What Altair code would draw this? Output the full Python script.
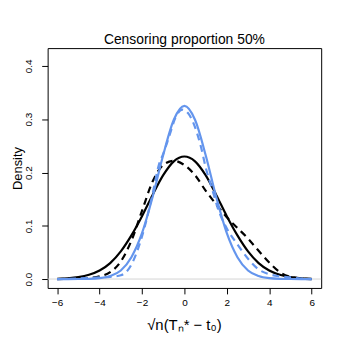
import altair as alt
import pandas as pd

# Values
x_grid = [-6, -5.5, -5, -4.5, -4, -3.5, -3, -2.5, -2, -1.5, -1, -0.5, 0,
          0.5, 1, 1.5, 2, 2.5, 3, 3.5, 4, 4.5, 5, 5.5, 6]

black_solid = [0.0006, 0.0015, 0.0036, 0.008, 0.016, 0.030, 0.052, 0.082, 0.118,
               0.158, 0.195, 0.221, 0.230, 0.221, 0.195, 0.158, 0.118, 0.082,
               0.052, 0.030, 0.016, 0.008, 0.0036, 0.0015, 0.0006]

blue_solid = [0.0, 0.0, 0.0001, 0.0004, 0.0016, 0.0056, 0.016, 0.041, 0.086,
              0.154, 0.233, 0.299, 0.325, 0.299, 0.233, 0.154, 0.086, 0.041,
              0.016, 0.0056, 0.0016, 0.0004, 0.0001, 0.0, 0.0]

black_dashed_x = [-6, -5.5, -5, -4.5, -4, -3.5, -3, -2.5, -2, -1.5, -1, -0.5, 0,
                  0.5, 1, 1.5, 2, 2.5, 3, 3.5, 4, 4.5, 5, 5.5, 6]
black_dashed = [0.0, 0.0005, 0.001, 0.002, 0.005, 0.013, 0.033, 0.072, 0.128,
                0.183, 0.214, 0.222, 0.214, 0.195, 0.166, 0.140, 0.116, 0.096,
                0.076, 0.053, 0.031, 0.013, 0.004, 0.001, 0.0]

blue_dashed_x = [-6, -5, -4.5, -4, -3.5, -3, -2.5, -2, -1.5, -1.2, -1, -0.7, -0.4,
                 -0.1, 0.2, 0.5, 0.8, 1, 1.3, 1.6, 2, 2.5, 3, 3.5, 4, 4.5, 5, 5.5, 6]
blue_dashed = [0.0, 0.001, 0.002, 0.003, 0.004, 0.007, 0.027, 0.080, 0.160, 0.215,
               0.235, 0.270, 0.305, 0.318, 0.310, 0.285, 0.245, 0.210, 0.170, 0.130,
               0.095, 0.065, 0.038, 0.018, 0.009, 0.005, 0.003, 0.001, 0.0]

x_ticks = [-6, -4, -2, 0, 2, 4, 6]
y_ticks = [0.0, 0.1, 0.2, 0.3, 0.4]

FONT = "Liberation Sans"

frames = []
for name, xs, ys in [("black_solid", x_grid, black_solid),
                     ("blue_solid", x_grid, blue_solid),
                     ("black_dashed", black_dashed_x, black_dashed),
                     ("blue_dashed", blue_dashed_x, blue_dashed)]:
    frames.append(pd.DataFrame({"x": xs, "y": ys, "series": name}))
df = pd.concat(frames, ignore_index=True)

xscale = alt.Scale(domain=[-6.45, 6.45], nice=False, zero=False)
yscale = alt.Scale(domain=[-0.0167, 0.4335], nice=False, zero=False)

xaxis = alt.Axis(values=x_ticks, title=None, grid=False, domain=False, tickSize=6,
                 tickColor="black", labelColor="black", labelFontSize=10,
                 labelFont=FONT, labelPadding=4, format="d")
yaxis = alt.Axis(values=y_ticks, title="Density", grid=False, domain=False, tickSize=6,
                 tickColor="black", labelColor="black", labelFontSize=10,
                 labelFont=FONT, labelAngle=-90, labelAlign="center",
                 labelBaseline="bottom", labelPadding=8, format=".1f",
                 titleFont=FONT, titleFontSize=13, titleFontWeight="normal",
                 titleColor="black", titleX=-30, titleY=121, titleAngle=270,
                 titleAlign="center", titleBaseline="middle")

base = alt.Chart(df)

zero_line = alt.Chart(pd.DataFrame({"y": [0.0]})).mark_rule(
    color="#d3d3d3", strokeWidth=1).encode(y=alt.Y("y:Q", scale=yscale, axis=yaxis))


def curve(name, color, dash):
    kw = dict(color=color, strokeWidth=2.2, interpolate="monotone")
    if dash:
        kw["strokeDash"] = [7, 5]
    return base.transform_filter(alt.datum.series == name).mark_line(**kw).encode(
        x=alt.X("x:Q", scale=xscale, axis=xaxis),
        y=alt.Y("y:Q", scale=yscale, axis=yaxis),
    )


layers = [
    zero_line,
    curve("black_solid", "black", False),
    curve("black_dashed", "black", True),
    curve("blue_solid", "#6495ED", False),
    curve("blue_dashed", "#6495ED", True),
]

xlabel = alt.Chart(pd.DataFrame({"t": ["√n(Tₙ* − t₀)"]})).mark_text(
    font=FONT, fontSize=15, color="black", align="center", baseline="middle"
).encode(text="t:N", x=alt.value(138), y=alt.value(279))

chart = alt.layer(*layers, xlabel).properties(
    width=276, height=242,
    title=alt.TitleParams("Censoring proportion 50%", font=FONT, fontSize=14,
                          fontWeight="normal", color="black", offset=1),
    autosize=alt.AutoSizeParams(type="none"),
    padding={"left": 40, "top": 39, "right": 20, "bottom": 45},
).configure(background="white").configure_view(stroke="black", strokeWidth=1)

chart.save("out.html", embed_options={"renderer": "svg", "actions": False})
